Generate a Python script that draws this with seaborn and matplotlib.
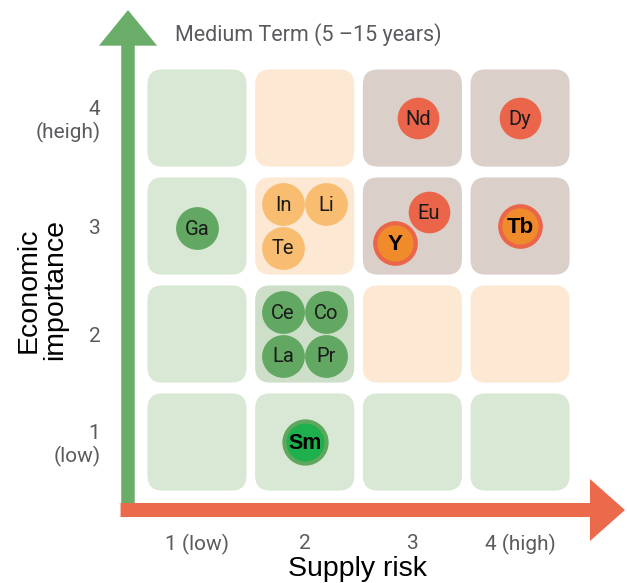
import matplotlib
matplotlib.use("Agg")
import matplotlib.pyplot as plt
from matplotlib.patches import FancyBboxPatch, FancyArrow
import seaborn as sns
import pandas as pd

# ---------------- data ----------------
elements = ["Nd", "Dy", "Ga", "In", "Li", "Te", "Eu", "Y", "Tb", "Ce", "Co", "La", "Pr", "Sm"]
supply_risk = [3, 4, 1, 2, 2, 2, 3, 3, 4, 2, 2, 2, 2, 2]
economic_importance = [4, 4, 3, 3, 3, 3, 3, 3, 3, 2, 2, 2, 2, 1]
element_class = ["red", "red", "green", "light", "light", "light", "red", "ring", "ring",
                 "green", "green", "green", "green", "sm"]

# zone of each cell, rows from importance 4 down to 1, columns risk 1..4
zone_rows = [
    ["green", "peach", "taupe", "taupe"],
    ["green", "peach", "taupe", "taupe"],
    ["green", "green2", "peach", "peach"],
    ["green", "green", "green", "green"],
]
x_tick_labels = ["1 (low)", "2", "3", "4 (high)"]
y_tick_labels = ["1\n(low)", "2", "3", "4\n(heigh)"]
title = "Medium Term (5 \u201315 years)"
x_label = "Supply risk"
y_label = "Economic\nimportance"

# ---------------- layout / style ----------------
offsets = {"In": (-0.2, 0.2), "Li": (0.2, 0.2), "Te": (-0.2, -0.2),
           "Eu": (0.15, 0.13), "Y": (-0.16, -0.16), "Nd": (0.05, 0.0),
           "Ce": (-0.2, 0.2), "Co": (0.2, 0.2), "La": (-0.2, -0.2), "Pr": (0.2, -0.2),
           "Ga": (0.0, -0.02)}
zone_colors = {"green": "#d8e8d4", "green2": "#cddfc9", "peach": "#fde8d4", "taupe": "#dbcfc9"}
class_style = {
    "green": dict(fc="#62a862", ec="#62a862", lw=0, s=950, fs=14.5, bold=False),
    "red": dict(fc="#ea6549", ec="#ea6549", lw=0, s=900, fs=14.5, bold=False),
    "light": dict(fc="#f9bd72", ec="#f9bd72", lw=0, s=950, fs=14.5, bold=False),
    "ring": dict(fc="#f08b2c", ec="#ea6549", lw=3, s=850, fs=16, bold=True),
    "sm": dict(fc="#1db04c", ec="#5fa75f", lw=3, s=920, fs=15.5, bold=True),
}

sns.set_theme(style="white")
plt.rcParams["font.family"] = ["Roboto", "DejaVu Sans"]

fig = plt.figure(figsize=(6.27, 5.83), dpi=100)
ax = fig.add_axes([110 / 627, 53 / 583, 517 / 627, 530 / 583])
ax.set_xlim(0.192, 4.993)
ax.set_ylim(0.185, 5.093)
for sp in ax.spines.values():
    sp.set_visible(False)

# cells
cw, ch = 0.92, 0.9
for ri, row in enumerate(zone_rows):
    imp = 4 - ri
    for ci, z in enumerate(row):
        risk = ci + 1
        ax.add_patch(FancyBboxPatch((risk - cw / 2, imp - ch / 2), cw, ch,
                                    boxstyle="round,pad=0,rounding_size=0.14",
                                    fc=zone_colors[z], ec="none", zorder=1))

# arrows
ax.add_patch(FancyArrow(0.359, 0.324, 0, 5.0 - 0.324, width=0.125, head_width=0.54,
                        head_length=0.33, length_includes_head=True,
                        fc="#69ad69", ec="none", zorder=2, clip_on=False))
ax.add_patch(FancyArrow(0.29, 0.37, 4.974 - 0.29, 0, width=0.13, head_width=0.575,
                        head_length=0.325, length_includes_head=True,
                        fc="#ec6a4c", ec="none", zorder=2.1, clip_on=False))

# points
df = pd.DataFrame({"element": elements, "risk": supply_risk,
                   "importance": economic_importance, "cls": element_class})
df["px"] = [r + offsets.get(e, (0, 0))[0] for e, r in zip(df.element, df.risk)]
df["py"] = [i + offsets.get(e, (0, 0))[1] for e, i in zip(df.element, df.importance)]

for cls, st in class_style.items():
    sub = df[df.cls == cls]
    sns.scatterplot(data=sub, x="px", y="py", color=st["fc"], edgecolor=st["ec"],
                    linewidth=st["lw"], s=st["s"], ax=ax, legend=False, zorder=3)
    for _, r in sub.iterrows():
        if st["bold"]:
            ax.text(r.px, r.py - 0.01, r.element, ha="center", va="center",
                    fontsize=st["fs"], fontweight="bold", color="black",
                    family=["Liberation Sans", "DejaVu Sans"], zorder=4)
        else:
            ax.text(r.px, r.py - 0.01, r.element, ha="center", va="center",
                    fontsize=st["fs"], color="#1a1a1a", zorder=4)

ax.set_xlabel(x_label, fontsize=20.5, family=["Liberation Sans", "DejaVu Sans"], color="black")
ax.set_ylabel(y_label, fontsize=20.5, family=["Liberation Sans", "DejaVu Sans"], color="black",
              linespacing=1.0)
ax.xaxis.set_label_coords((357 - 110) / 517, (530 - 569) / 530)
ax.xaxis.label.set_va("center")
ax.yaxis.set_label_coords((42 - 110) / 517, (530 - 290) / 530)
ax.yaxis.label.set_va("center")

ax.set_xticks([1, 2, 3, 4])
ax.set_xticklabels(x_tick_labels, fontsize=15, color="#5a5b5e")
ax.set_yticks([1, 2, 3, 4])
ax.set_yticklabels(y_tick_labels, fontsize=15, color="#5a5b5e", linespacing=1.15)
ax.tick_params(axis="x", length=0, pad=3)
ax.tick_params(axis="y", length=0, pad=7)

ax.text((175 - 110) / 517, (530 - 35) / 530, title, transform=ax.transAxes,
        ha="left", va="center", fontsize=15.5, color="#5a5b5e")

fig.savefig("out.png", dpi=100)
